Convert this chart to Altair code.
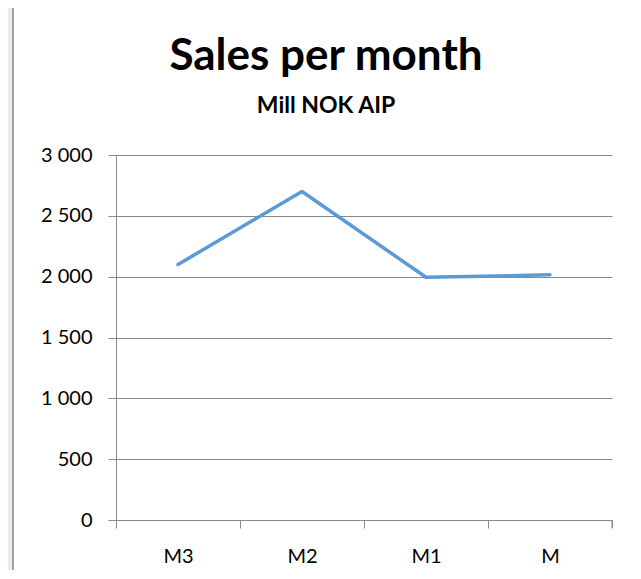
import altair as alt
import pandas as pd

months = ["M3", "M2", "M1", "M"]
sales = [2100, 2700, 1995, 2015]
y_ticks = [0, 500, 1000, 1500, 2000, 2500, 3000]
title_text = "Sales per month"
subtitle_text = "Mill NOK AIP"

df = pd.DataFrame({"month": months, "sales": sales})
one = pd.DataFrame({"k": [0]})

W, H = 496, 365
GRAY = "#898989"
FONT = "Lato"

# light backdrop strip and frame border on the left (decoration)
strip = alt.Chart(one).mark_rect(fill="#e6eeeb").encode(
    x=alt.value(-108), x2=alt.value(-104),
    y=alt.value(-147), y2=alt.value(H + 50),
)
border = alt.Chart(one).mark_rule(color="#a3a3a3", strokeWidth=2).encode(
    x=alt.value(-103), y=alt.value(-147), y2=alt.value(H + 50)
)

title = alt.Chart(one).mark_text(
    text=title_text, font=FONT, fontSize=44, fontWeight="bold",
    color="black", align="center", baseline="alphabetic",
).encode(x=alt.value(210), y=alt.value(-85))

subtitle = alt.Chart(one).mark_text(
    text=subtitle_text, font=FONT, fontSize=23, fontWeight="bold",
    color="black", align="center", baseline="alphabetic",
).encode(x=alt.value(210), y=alt.value(-42))

end_tick = alt.Chart(one).mark_rule(color=GRAY, strokeWidth=1).encode(
    x=alt.value(W), y=alt.value(H), y2=alt.value(H + 8)
)

line = alt.Chart(df).mark_line(
    color="#5B9BD5", strokeWidth=3.5, strokeCap="round", strokeJoin="round"
).encode(
    x=alt.X("month:N", sort=months,
            scale=alt.Scale(type="band", paddingInner=0, paddingOuter=0),
            axis=alt.Axis(title=None, grid=False, tickBand="extent",
                          domainColor=GRAY, tickColor=GRAY, tickSize=8,
                          labelAngle=0, labelPadding=18, labelFontSize=20,
                          labelFont=FONT, labelColor="black")),
    y=alt.Y("sales:Q",
            scale=alt.Scale(domain=[0, 3000], nice=False),
            axis=alt.Axis(title=None, values=y_ticks, grid=True,
                          gridColor=GRAY, domainColor=GRAY, tickColor=GRAY,
                          tickSize=8, labelPadding=16, labelFontSize=20,
                          labelFont=FONT, labelColor="black",
                          labelExpr="replace(format(datum.value, ',d'), ',', ' ')")),
)

chart = alt.layer(strip, border, title, subtitle, line, end_tick).properties(
    width=W, height=H,
    padding={"left": 108, "top": 147, "right": 21, "bottom": 50},
    autosize=alt.AutoSizeParams(type="none"),
    background="white",
).configure_view(stroke=None)

chart.save("out.html", embed_options={"renderer": "svg", "actions": False})
